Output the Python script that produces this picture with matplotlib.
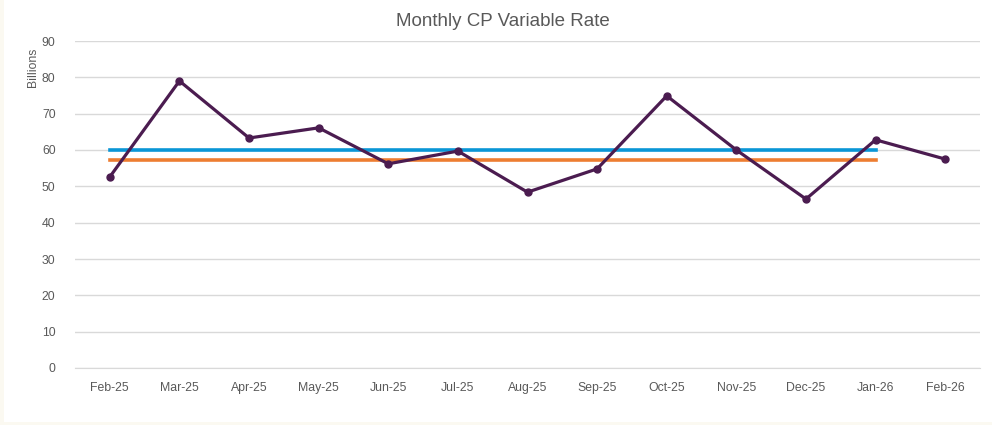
import matplotlib.pyplot as plt
import matplotlib.patches as patches
import numpy as np

# Chart data
months = ['Feb-25', 'Mar-25', 'Apr-25', 'May-25', 'Jun-25', 'Jul-25', 'Aug-25',
          'Sep-25', 'Oct-25', 'Nov-25', 'Dec-25', 'Jan-26', 'Feb-26']
cp_rate = [52.6, 79.0, 63.3, 66.1, 56.2, 59.7, 48.4, 54.8, 74.9, 60.0, 46.5, 62.8, 57.5]
blue_level = [60.1] * 12
orange_level = [57.3] * 12
y_ticks = [0, 10, 20, 30, 40, 50, 60, 70, 80, 90]

W, H = 992, 425
fig = plt.figure(figsize=(W / 100, H / 100), dpi=100, facecolor='#fbf9f1')
# white chart area with a thin cream border on left/bottom
fig.patches.append(patches.Rectangle((4 / W, 3 / H), 1, 1, transform=fig.transFigure,
                                     facecolor='white', edgecolor='none', zorder=-5))

ax = fig.add_axes([75 / W, 1 - 368 / H, (980 - 75) / W, (368 - 41) / H])
ax.set_zorder(2)
ax.set_facecolor('white')

x = np.arange(len(months))
ax.plot(x[:len(blue_level)], blue_level, color='#0a96d6', linewidth=2.6, zorder=2)
ax.plot(x[:len(orange_level)], orange_level, color='#ed7d31', linewidth=2.6, zorder=2)
ax.plot(x, cp_rate, color='#4b1c50', linewidth=2.3, marker='o', markersize=5, zorder=3)

ax.set_xlim(-0.5, len(months) - 0.5)
ax.set_ylim(0, 90)
ax.set_yticks(y_ticks)
ax.set_xticks(x)
ax.set_xticklabels(months)
ax.tick_params(axis='both', length=0, labelsize=8.8, labelcolor='#595959',
               labelfontfamily='Liberation Sans')
ax.tick_params(axis='x', pad=10)
ax.tick_params(axis='y', pad=14)
ax.grid(axis='y', color='#d9d9d9', linewidth=1)
ax.set_axisbelow(True)
for side in ['top', 'right', 'left']:
    ax.spines[side].set_visible(False)
ax.spines['bottom'].set_color('#d9d9d9')

fig.text(503 / W, 1 - 21 / H, 'Monthly CP Variable Rate', ha='center', va='center',
         fontsize=13.5, color='#595959', family='Liberation Sans')
fig.text(33 / W, 1 - 67 / H, 'Billions', rotation=90, ha='center', va='center',
         fontsize=8.8, color='#595959', family='Liberation Sans')

fig.savefig('out.png', dpi=100, facecolor=fig.get_facecolor())
